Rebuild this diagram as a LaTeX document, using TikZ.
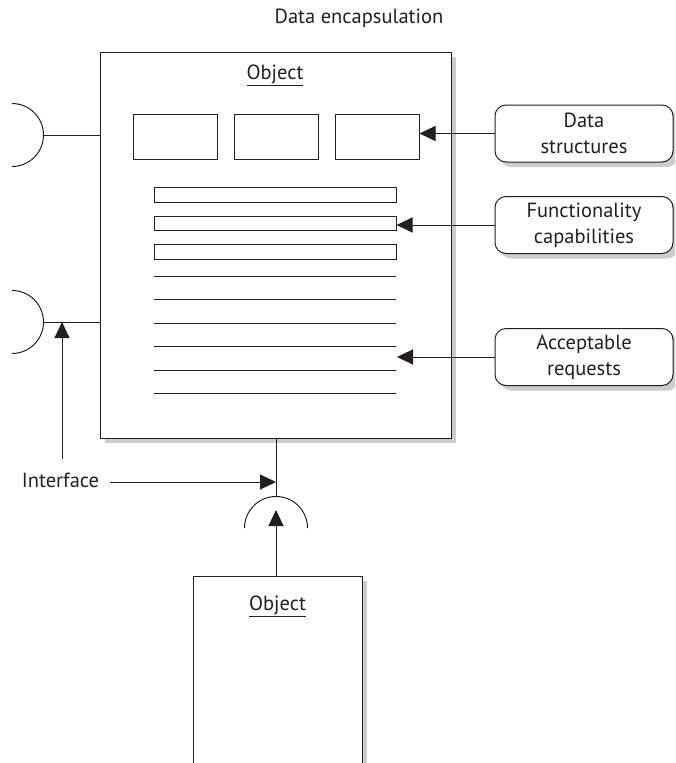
\documentclass[tikz,border=0pt]{standalone}
\usepackage{fontspec}
\setmainfont{PT Sans}
\usetikzlibrary{arrows.meta,shadows}
\definecolor{ink}{HTML}{231F20}
\definecolor{shade}{HTML}{CCCCCC}
\begin{document}
\begin{tikzpicture}[x=1pt,y=-1pt,line width=1pt,
  txt/.style={font=\fontsize{20.5}{26}\selectfont, text=ink, inner sep=0pt},
  shadowed/.style={drop shadow={shadow xshift=5pt,shadow yshift=-5pt,fill=shade,opacity=1}},
  objbox/.style={draw=ink, fill=white, inner sep=0pt},
  cell/.style={draw=ink, fill=white, inner sep=0pt},
  rbox/.style={draw=ink, fill=white, rounded corners=11pt, inner sep=2pt,
     minimum width=178pt, minimum height=57pt, align=center,
     font=\fontsize{20.5}{26}\selectfont, text=ink, shadowed},
  arr/.style={draw=ink, -{Triangle[length=16pt,width=15pt]}},
  wire/.style={draw=ink}]
\useasboundingbox (0,0) rectangle (675,763);
\clip (0,0) rectangle (675,763);

% title
\node[txt, anchor=base] (title) at (359,23) {Data encapsulation};

% main object
\node[objbox, shadowed, minimum width=351pt, minimum height=386pt] (obj) at (275.5,245) {};
\node[txt, anchor=base] (objlbl) at (275,79) {\underline{Object}};

\node[cell, minimum width=84pt, minimum height=45pt] (r1) at (175,136.5) {};
\node[cell, minimum width=84pt, minimum height=45pt] (r2) at (276,136.5) {};
\node[cell, minimum width=84pt, minimum height=45pt] (r3) at (377,136.5) {};

\node[cell, minimum width=242pt, minimum height=15pt] (b1) at (275,194.5) {};
\node[cell, minimum width=242pt, minimum height=14pt] (b2) at (275,223) {};
\node[cell, minimum width=242pt, minimum height=15pt] (b3) at (275,251.5) {};

\foreach \yy in {276,299,323,346,370,393}
  \draw[wire] (154,\yy) -- (396,\yy);

% labels on the right
\node[rbox] (ds) at (584,133.5) {Data\\structures};
\node[rbox] (fc) at (584,225) {Functionality\\capabilities};
\node[rbox] (ar) at (584,357) {Acceptable\\requests};

\draw[arr] (ds.west) -- (ds.west -| r3.east);
\draw[arr] (fc.west) -- (fc.west -| b2.east);
\coordinate (lnTip) at (397,357);
\draw[arr] (ar.west) -- (lnTip);

% left sockets
\coordinate (s1) at (43.5,135);
\draw[wire] (12,103.5) arc[start angle=90,end angle=-90,radius=31.5pt];
\draw[wire] (s1) -- (s1 -| obj.west);

\coordinate (s2) at (43.5,322);
\draw[wire] (12,290.5) arc[start angle=90,end angle=-90,radius=31.5pt];
\draw[wire] (s2) -- (s2 -| obj.west);

\coordinate (if2) at (62,459);
\draw[arr] (if2) -- (if2 |- s2);

% interface
\node[txt, anchor=base] (iflbl) at (60.5,487) {Interface};
\coordinate (s3top) at (276,496.5);
\coordinate (ifStart) at (110,482);
\draw[arr] (ifStart) -- (ifStart -| s3top);
\draw[wire] (obj.south -| s3top) -- (s3top);
\draw[wire] (244.5,528) arc[start angle=180,end angle=0,radius=31.5pt];

% bottom object
\node[objbox, shadowed, minimum width=169pt, minimum height=250pt] (obj2) at (277.5,701) {};
\node[txt, anchor=base] (obj2lbl) at (277.5,610) {\underline{Object}};
\coordinate (s3tip) at (276,510);
\draw[arr] (obj2.north -| s3tip) -- (s3tip);
\end{tikzpicture}
\end{document}
